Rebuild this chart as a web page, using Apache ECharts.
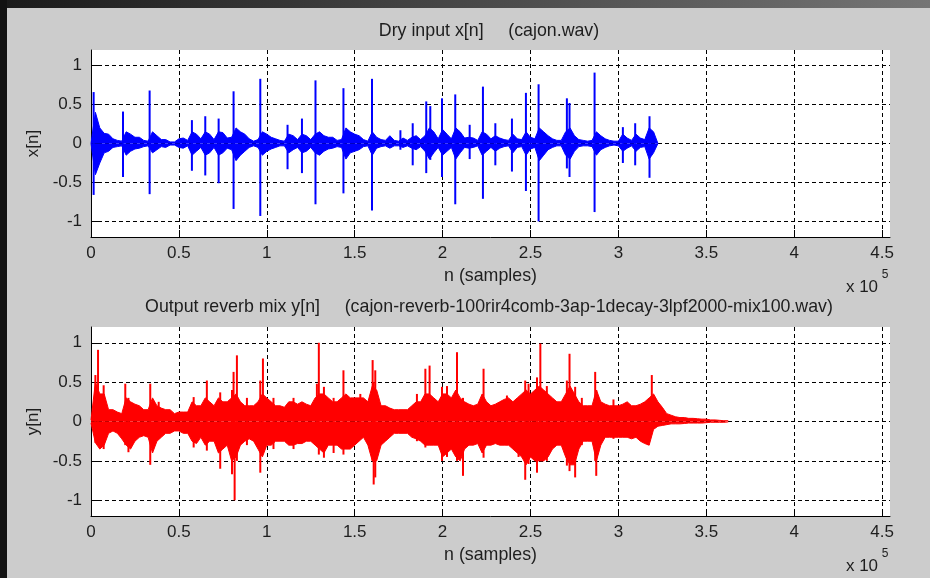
<!DOCTYPE html>
<html>
<head>
<meta charset="utf-8">
<title>cajon reverb</title>
<script src="https://cdn.jsdelivr.net/npm/echarts@6/dist/echarts.min.js"></script>
<style>
  html, body { margin: 0; padding: 0; background: #cccccc; }
  #main { width: 930px; height: 578px; }
</style>
</head>
<body>
<div id="main"></div>
<script>
// envelopes are read every 2500 samples
const STEP = 2500
const xTicks = [0, 50000, 100000, 150000, 200000, 250000, 300000, 350000, 400000, 450000]
const yTicks = [-1, -0.5, 0, 0.5, 1]

// dry input x[n] : upper / lower envelope (one row = 50000 samples)
const dryHi = [
  0, 0.4, 0.2, 0.13, 0.12, 0.06, 0.04, 0.03, 0.15, 0.12, 0.08, 0.08, 0.04, 0.03, 0.15, 0.1, 0.05, 0.05, 0.02, 0.02,
  0.06, 0.07, 0.04, 0.15, 0.12, 0.06, 0.15, 0.12, 0.05, 0.15, 0.14, 0.07, 0.08, 0.2, 0.15, 0.12, 0.06, 0.03, 0.05, 0.15,
  0.12, 0.08, 0.06, 0.04, 0.03, 0.12, 0.1, 0.05, 0.12, 0.1, 0.05, 0.12, 0.15, 0.1, 0.08, 0.08, 0.04, 0.05, 0.2, 0.15,
  0.12, 0.1, 0.05, 0.03, 0.15, 0.08, 0.05, 0.04, 0.1, 0.04, 0.03, 0.07, 0.04, 0.08, 0.1, 0.05, 0.1, 0.2, 0.15, 0.06,
  0.18, 0.12, 0.06, 0.2, 0.15, 0.07, 0.08, 0.07, 0.04, 0.15, 0.12, 0.06, 0.1, 0.07, 0.05, 0.04, 0.12, 0.06, 0.05, 0.15,
  0.08, 0.06, 0.2, 0.15, 0.1, 0.06, 0.04, 0.04, 0.15, 0.2, 0.1, 0.05, 0.04, 0.03, 0.04, 0.15, 0.1, 0.06, 0.04, 0.03,
  0.03, 0.12, 0.07, 0.04, 0.12, 0.07, 0.05, 0.2, 0.15, 0
]
const dryLo = [
  0, -0.4, -0.25, -0.12, -0.1, -0.05, -0.04, -0.03, -0.15, -0.1, -0.07, -0.06, -0.04, -0.03, -0.12, -0.08, -0.04, -0.05, -0.02, -0.02,
  -0.05, -0.06, -0.03, -0.15, -0.1, -0.05, -0.15, -0.12, -0.05, -0.15, -0.12, -0.06, -0.08, -0.22, -0.15, -0.1, -0.05, -0.03, -0.05, -0.15,
  -0.1, -0.07, -0.05, -0.03, -0.03, -0.12, -0.08, -0.05, -0.12, -0.1, -0.05, -0.12, -0.15, -0.1, -0.07, -0.06, -0.04, -0.05, -0.2, -0.12,
  -0.1, -0.08, -0.04, -0.03, -0.15, -0.06, -0.04, -0.03, -0.06, -0.03, -0.03, -0.05, -0.03, -0.06, -0.08, -0.04, -0.1, -0.2, -0.12, -0.05,
  -0.15, -0.1, -0.05, -0.2, -0.12, -0.05, -0.06, -0.05, -0.03, -0.15, -0.1, -0.05, -0.1, -0.06, -0.04, -0.03, -0.12, -0.05, -0.04, -0.15,
  -0.07, -0.05, -0.22, -0.15, -0.08, -0.05, -0.03, -0.03, -0.15, -0.2, -0.1, -0.04, -0.03, -0.03, -0.04, -0.15, -0.08, -0.05, -0.03, -0.02,
  -0.03, -0.1, -0.06, -0.03, -0.1, -0.05, -0.04, -0.2, -0.12, 0
]
// drum hits in x[n] : sample index, positive peak, negative peak
const dryHitN = [1500, 18200, 33350, 57400, 65000, 72600, 81100, 96300, 111800, 120000, 127700, 143600,
  159850, 176000, 183000, 190700, 193000, 199650, 207200, 215400, 222950, 230000, 239450, 247400,
  254600, 270700, 272200, 286450, 302550, 309550, 317700]
const dryHitHi = [0.66, 0.41, 0.68, 0.30, 0.35, 0.32, 0.67, 0.83, 0.24, 0.32, 0.81, 0.71,
  0.83, 0.17, 0.26, 0.54, 0.48, 0.58, 0.63, 0.24, 0.73, 0.26, 0.32, 0.65,
  0.76, 0.58, 0.52, 0.91, 0.21, 0.26, 0.35]
const dryHitLo = [-0.66, -0.43, -0.65, -0.35, -0.41, -0.51, -0.84, -0.93, -0.33, -0.38, -0.78, -0.64,
  -0.86, -0.08, -0.28, -0.38, -0.21, -0.43, -0.78, -0.2, -0.71, -0.28, -0.36, -0.61,
  -1.0, -0.32, -0.43, -0.88, -0.25, -0.28, -0.44]

// reverb output y[n] : upper / lower envelope
const wetHi = [
  0.02, 0.5, 0.35, 0.35, 0.15, 0.15, 0.12, 0.1, 0.3, 0.25, 0.22, 0.2, 0.15, 0.15, 0.3, 0.2, 0.17, 0.15, 0.15, 0.1,
  0.12, 0.12, 0.12, 0.25, 0.2, 0.2, 0.3, 0.25, 0.2, 0.3, 0.25, 0.25, 0.3, 0.35, 0.25, 0.2, 0.2, 0.2, 0.25, 0.35,
  0.3, 0.25, 0.2, 0.2, 0.18, 0.25, 0.25, 0.22, 0.25, 0.22, 0.2, 0.3, 0.35, 0.35, 0.3, 0.25, 0.25, 0.3, 0.35, 0.3,
  0.3, 0.3, 0.3, 0.25, 0.45, 0.4, 0.2, 0.2, 0.17, 0.15, 0.15, 0.15, 0.15, 0.2, 0.25, 0.25, 0.35, 0.35, 0.3, 0.25,
  0.35, 0.35, 0.3, 0.4, 0.3, 0.25, 0.22, 0.2, 0.22, 0.35, 0.25, 0.2, 0.22, 0.25, 0.28, 0.3, 0.25, 0.3, 0.35, 0.4,
  0.35, 0.4, 0.45, 0.4, 0.35, 0.3, 0.25, 0.25, 0.35, 0.45, 0.35, 0.25, 0.2, 0.2, 0.2, 0.4, 0.25, 0.22, 0.2, 0.2,
  0.2, 0.22, 0.25, 0.2, 0.2, 0.22, 0.25, 0.3, 0.35, 0.25, 0.18, 0.1, 0.08, 0.06, 0.05, 0.05, 0.04, 0.04, 0.035, 0.03,
  0.03, 0.02, 0.02, 0.015, 0.01, 0.01
]
const wetLo = [
  -0.02, -0.27, -0.35, -0.3, -0.15, -0.12, -0.15, -0.22, -0.3, -0.35, -0.25, -0.2, -0.18, -0.2, -0.4, -0.25, -0.2, -0.15, -0.15, -0.12,
  -0.12, -0.15, -0.15, -0.25, -0.28, -0.2, -0.3, -0.25, -0.25, -0.4, -0.35, -0.3, -0.5, -0.45, -0.3, -0.25, -0.22, -0.25, -0.35, -0.45,
  -0.3, -0.3, -0.25, -0.25, -0.25, -0.3, -0.3, -0.28, -0.28, -0.25, -0.25, -0.3, -0.35, -0.4, -0.3, -0.3, -0.3, -0.35, -0.35, -0.35,
  -0.3, -0.25, -0.2, -0.3, -0.5, -0.5, -0.3, -0.25, -0.2, -0.15, -0.15, -0.15, -0.15, -0.2, -0.22, -0.25, -0.3, -0.3, -0.3, -0.3,
  -0.45, -0.4, -0.35, -0.45, -0.5, -0.35, -0.3, -0.3, -0.28, -0.4, -0.3, -0.3, -0.28, -0.3, -0.3, -0.3, -0.35, -0.4, -0.45, -0.55,
  -0.45, -0.5, -0.5, -0.5, -0.45, -0.35, -0.3, -0.3, -0.45, -0.55, -0.55, -0.35, -0.25, -0.25, -0.25, -0.5, -0.3, -0.2, -0.2, -0.2,
  -0.2, -0.2, -0.2, -0.22, -0.2, -0.25, -0.28, -0.3, -0.1, -0.06, -0.05, -0.04, -0.03, -0.03, -0.03, -0.025, -0.02, -0.02, -0.02, -0.02,
  -0.015, -0.01, -0.01, -0.01, -0.01, -0.005
]
// individual peaks standing out of y[n]
const wetHitN = [2500, 4000, 7200, 19500, 21300, 33700, 38500, 58400, 65900, 73500, 80200, 81100, 81700, 83000, 88700,
  96300, 97800, 103800, 115200, 128500, 129600, 132500, 138000, 143600, 153200, 160200, 160800, 161700, 185400,
  190200, 192600, 199650, 202500, 208200, 211600, 223300, 236600, 243200, 247000, 248900, 253700, 255600, 259300,
  270700, 272200, 275400, 279200, 286800, 287400, 297200, 317100, 319000]
const wetHitHi = [0.59, 0.91, 0.46, 0.48, 0.3, 0.48, 0.25, 0.31, 0.52, 0.37, 0.4, 0.63, 0.3, 0.84, 0.3,
  0.52, 0.8, 0.3, 0.3, 0.48, 1.0, 0.44, 0.3, 0.65, 0.35, 0.78, 0.5, 0.65, 0.35,
  0.67, 0.71, 0.44, 0.45, 0.88, 0.3, 0.67, 0.33, 0.3, 0.52, 0.48, 0.56, 0.99, 0.45,
  0.52, 0.86, 0.44, 0.3, 0.63, 0.4, 0.28, 0.25, 0.59]
const wetHitLo = [-0.27, -0.29, -0.35, -0.3, -0.39, -0.55, -0.2, -0.33, -0.37, -0.6, -0.67, -0.4, -1.0, -0.5, -0.3,
  -0.65, -0.3, -0.35, -0.35, -0.3, -0.42, -0.46, -0.4, -0.42, -0.2, -0.5, -0.8, -0.71, -0.25,
  -0.33, -0.3, -0.5, -0.45, -0.5, -0.69, -0.46, -0.3, -0.45, -0.74, -0.54, -0.65, -0.5, -0.5,
  -0.56, -0.63, -0.71, -0.3, -0.5, -0.69, -0.22, -0.3, -0.1]

const FONT = 'Liberation Sans'
const TXT = '#1e1e1e'

const env = arr => arr.map((v, i) => [i * STEP, v])
const hits = (ns, vs) => ns.map((n, i) => [n, vs[i]])

function xAxisFor(g) {
    return {
        gridIndex: g,
        type: 'value',
        min: 0,
        max: 454500,
        axisLine: { onZero: false, lineStyle: { color: '#000', width: 1 } },
        axisTick: { inside: true, length: 7, customValues: xTicks, lineStyle: { color: '#000' } },
        axisLabel: {
            customValues: xTicks,
            formatter: v => String(v / 100000),
            color: TXT, fontSize: 17, fontFamily: FONT, margin: 8
        },
        splitLine: { show: true, lineStyle: { color: '#000', width: 1, type: [4, 3] } },
        name: 'n (samples)',
        nameLocation: 'middle',
        nameGap: 30,
        nameTextStyle: { color: TXT, fontSize: 17.8, fontFamily: FONT }
    }
}

function yAxisFor(g, label) {
    return {
        gridIndex: g,
        type: 'value',
        min: -1.2,
        max: 1.2,
        axisLine: { show: true, onZero: false, lineStyle: { color: '#000', width: 1 } },
        axisTick: { show: true, inside: true, length: 7, customValues: yTicks, lineStyle: { color: '#000' } },
        axisLabel: { customValues: yTicks, color: TXT, fontSize: 17, fontFamily: FONT, margin: 9 },
        splitLine: { show: true, lineStyle: { color: '#000', width: 1, type: [4, 3] } },
        name: label,
        nameLocation: 'middle',
        nameGap: 48,
        nameTextStyle: { color: TXT, fontSize: 17, fontFamily: FONT }
    }
}

// every column of a dense waveform is filled from its min to its max
function envSeries(g, data, color) {
    return {
        type: 'line',
        xAxisIndex: g,
        yAxisIndex: g,
        data: env(data),
        showSymbol: false,
        lineStyle: { color: color, width: 1 },
        areaStyle: { color: color, opacity: 1 },
        silent: true
    }
}

function hitSeries(g, ns, vs, color) {
    return {
        type: 'bar',
        xAxisIndex: g,
        yAxisIndex: g,
        data: hits(ns, vs),
        barWidth: 2,
        barGap: '-100%',
        itemStyle: { color: color },
        silent: true
    }
}

function label(text, x, y, size) {
    return {
        type: 'text',
        x: x,
        y: y,
        style: {
            text: text,
            fill: TXT,
            font: size + 'px "' + FONT + '"',
            align: 'center',
            verticalAlign: 'middle'
        }
    }
}

const chart = echarts.init(document.getElementById('main'))

const option = {
    animation: false,
    backgroundColor: '#cccccc',
    grid: [
        { left: 91, top: 50, width: 799, height: 187, show: true, backgroundColor: '#fff', borderWidth: 0 },
        { left: 91, top: 327, width: 799, height: 189, show: true, backgroundColor: '#fff', borderWidth: 0 }
    ],
    xAxis: [xAxisFor(0), xAxisFor(1)],
    yAxis: [yAxisFor(0, 'x[n]'), yAxisFor(1, 'y[n]')],
    series: [
        envSeries(0, dryHi, '#0000ff'),
        envSeries(0, dryLo, '#0000ff'),
        hitSeries(0, dryHitN, dryHitHi, '#0000ff'),
        hitSeries(0, dryHitN, dryHitLo, '#0000ff'),
        envSeries(1, wetHi, '#ff0000'),
        envSeries(1, wetLo, '#ff0000'),
        hitSeries(1, wetHitN, wetHitHi, '#ff0000'),
        hitSeries(1, wetHitN, wetHitLo, '#ff0000')
    ],
    graphic: [
        {
            type: 'rect',
            shape: { x: 0, y: 0, width: 930, height: 8 },
            style: {
                fill: new echarts.graphic.LinearGradient(0, 0, 1, 0, [
                    { offset: 0, color: '#1a1a1a' },
                    { offset: 1, color: '#757575' }
                ])
            }
        },
        { type: 'rect', shape: { x: 0, y: 0, width: 7, height: 578 }, style: { fill: '#121212' } },
        label('Dry input x[n]     (cajon.wav)', 489, 31, 17.8),
        label('Output reverb mix y[n]     (cajon-reverb-100rir4comb-3ap-1decay-3lpf2000-mix100.wav)', 489, 307, 17.8),
        label('x 10', 862, 287, 17),
        label('5', 885, 275, 12),
        label('x 10', 862, 566, 17),
        label('5', 885, 554, 12)
    ]
}

chart.setOption(option)
</script>
</body>
</html>
